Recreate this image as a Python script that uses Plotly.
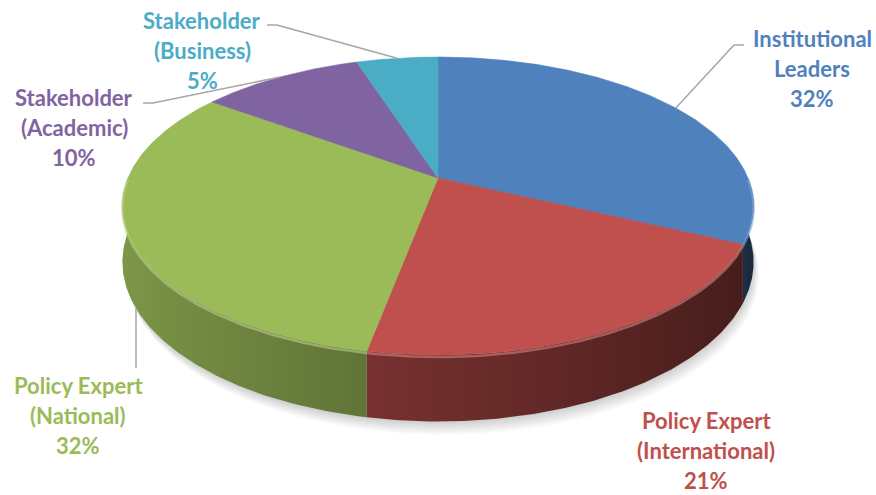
import numpy as np
import plotly.graph_objects as go

# ---------------------------------------------------------------- data
categories = ["Institutional Leaders", "Policy Expert (International)",
              "Policy Expert (National)", "Stakeholder (Academic)",
              "Stakeholder (Business)"]
label_lines = [["Institutional", "Leaders"],
               ["Policy Expert", "(International)"],
               ["Policy Expert", "(National)"],
               ["Stakeholder", "(Academic)"],
               ["Stakeholder", "(Business)"]]
shares = [32, 21, 32, 10, 5]

# --------------------------------------------------------------- style
colors = ["#4f81bd", "#c0504d", "#9bbb59", "#8064a2", "#4bacc6"]
W, H = 876, 495
CX, CY = 438, 178          # pie centre on the page (px)
RX, RY = 310, 143.7        # radii of the tilted disc
PERSP = 0.188              # perspective strength (far side smaller)
DEPTH = 54                 # thickness of the disc
FONT = "Lato"
FONT_SIZE = 22

# first-line centre of each label block, and leader-line elbows
label_pos = [(812, 38), (706, 420), (78, 385), (74, 97), (202, 20)]
LINE_STEP = 30
leader_elbows = [[(744, 45), (734, 45)], [], [(136, 368), (136, 308)],
                 [(143, 103), (153, 103)], [(267, 25), (277, 25)]]
leader_to_slice = [True, False, False, True, True]


def proj(theta, d=0.0):
    """Project a point on the unit rim (angle theta, depth d in 0..1)."""
    X, Y = np.cos(theta), np.sin(theta)
    w = 1 + PERSP * Y
    return CX + RX * X / w, CY + (-RY * Y + DEPTH * d) / w


def rgb(hexc):
    return tuple(int(hexc[k:k + 2], 16) for k in (1, 3, 5))


def shade(hexc, f):
    r, g, b = rgb(hexc)
    return f"rgb({int(r * f)},{int(g * f)},{int(b * f)})"


def tint(hexc, t):
    r, g, b = rgb(hexc)
    return f"rgb({int(r + (255 - r) * t)},{int(g + (255 - g) * t)},{int(b + (255 - b) * t)})"


def wall_light(theta):
    # light comes from the upper left
    return 0.58 - 0.24 * np.cos(theta)


total = float(sum(shares))
cum = np.concatenate([[0.0], np.cumsum(shares)])
starts = np.pi / 2 - 2 * np.pi * cum[:-1] / total   # clockwise from 12 o'clock
ends = np.pi / 2 - 2 * np.pi * cum[1:] / total

fig = go.Figure()

# soft drop shadow under the disc
ring = np.linspace(0, 2 * np.pi, 240)
for s in range(1, 17):
    sx, sy = proj(ring, 1.0)
    fig.add_trace(go.Scatter(
        x=sx + s * 0.35, y=sy + s * 0.85, mode="lines", fill="toself",
        fillcolor="rgba(0,0,0,0.012)", line=dict(width=0),
        hoverinfo="skip"))

# visible (front) side wall of each slice, with horizontal shading
for i, c in enumerate(colors):
    lo, hi = max(ends[i], -np.pi), min(starts[i], 0.0)
    if lo >= hi:
        continue
    arc = np.linspace(hi, lo, 120)
    tx, ty = proj(arc, 0.0)
    bx, by = proj(arc[::-1], 1.0)
    x0, x1 = tx.min(), tx.max()
    order = np.argsort(tx)
    picks = np.unique(np.linspace(0, len(arc) - 1, 12).astype(int))
    stops = []
    for k in order[picks]:
        pos = (tx[k] - x0) / (x1 - x0)
        stops.append([float(pos), shade(c, wall_light(arc[k]))])
    stops[0][0], stops[-1][0] = 0.0, 1.0
    fig.add_trace(go.Scatter(
        x=np.concatenate([tx, bx, tx[:1]]),
        y=np.concatenate([ty, by, ty[:1]]),
        mode="lines", fill="toself",
        fillgradient=dict(type="horizontal", colorscale=stops,
                          start=float(x0), stop=float(x1)),
        line=dict(width=0), hoverinfo="skip"))

# top face slices
for i, c in enumerate(colors):
    arc = np.linspace(starts[i], ends[i], 160)
    ax, ay = proj(arc, 0.0)
    fig.add_trace(go.Scatter(
        x=np.concatenate([[CX], ax, [CX]]),
        y=np.concatenate([[CY], ay, [CY]]),
        mode="lines", fill="toself", fillcolor=c,
        line=dict(color=c, width=0.6), name=categories[i],
        hoverinfo="name"))

# bevel highlight along the front rim
for i, c in enumerate(colors):
    lo, hi = max(ends[i], -np.pi), min(starts[i], 0.0)
    if lo >= hi:
        continue
    arc = np.linspace(hi, lo, 120)
    hx, hy = proj(arc, 0.03)
    fig.add_trace(go.Scatter(
        x=hx, y=hy, mode="lines", opacity=0.6,
        line=dict(color=tint(c, 0.3), width=2.5), hoverinfo="skip"))

# leader lines
for i in range(len(shares)):
    pts = list(leader_elbows[i])
    if leader_to_slice[i]:
        mid = 0.5 * (starts[i] + ends[i])
        pts.append(proj(mid, 0.0))
    if len(pts) < 2:
        continue
    fig.add_trace(go.Scatter(
        x=[p[0] for p in pts], y=[p[1] for p in pts], mode="lines",
        line=dict(color="#a6a6a6", width=1.5), hoverinfo="skip"))

# data labels
annotations = []
for i, c in enumerate(colors):
    lines = label_lines[i] + [f"{shares[i]}%"]
    x0, y0 = label_pos[i]
    for j, txt in enumerate(lines):
        annotations.append(dict(
            x=x0, y=y0 + j * LINE_STEP, xref="x", yref="y", text=txt,
            showarrow=False, xanchor="center", yanchor="middle",
            font=dict(family=FONT, size=FONT_SIZE, color=c, weight="bold")))

fig.update_layout(
    width=W, height=H, margin=dict(l=0, r=0, t=0, b=0),
    paper_bgcolor="white", plot_bgcolor="white", showlegend=False,
    xaxis=dict(range=[0, W], visible=False, fixedrange=True),
    yaxis=dict(range=[H, 0], visible=False, fixedrange=True),
    annotations=annotations)

fig.write_html("out.html")
